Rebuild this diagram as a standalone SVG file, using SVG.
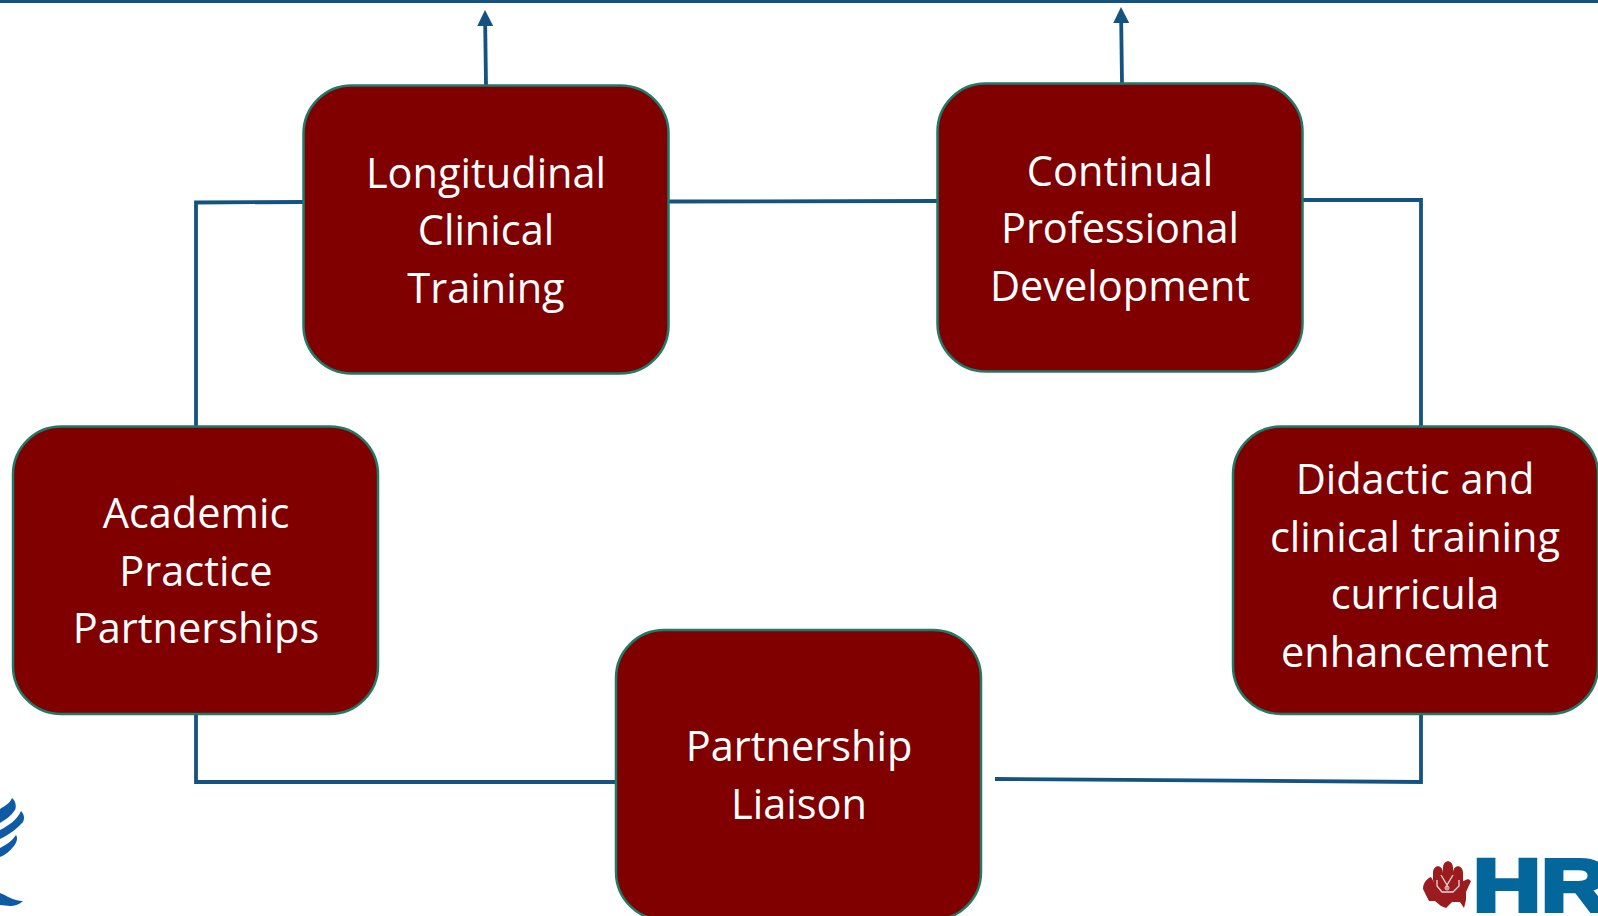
<svg xmlns="http://www.w3.org/2000/svg" width="1598" height="916" viewBox="0 0 1598 916">
<style>
.box{fill:#800000;stroke:#1f7a68;stroke-width:2.500}
.lbl{font-family:"Open Sans","Noto Sans",sans-serif;font-size:41.500px;fill:#fff;text-anchor:middle}
.c{fill:none;stroke:#135381;stroke-width:3.800}
</style>
<defs><marker id="ah" markerUnits="userSpaceOnUse" markerWidth="18" markerHeight="18" refX="1" refY="9" orient="auto"><path d="M0 1L16 9L0 17Z" fill="#135381"/></marker></defs>
<rect width="1598" height="916" fill="#fff"/>
<g id="connectors">
<path class="c" d="M0 1H1598"/>
<path class="c" d="M486 85L485.200 25" marker-end="url(#ah)"/>
<path class="c" d="M1122 83L1121.200 22" marker-end="url(#ah)"/>
<path class="c" d="M196 426V202.500L303 202"/>
<path class="c" d="M669 201.500L937 201"/>
<path class="c" d="M1303 200H1421V426"/>
<path class="c" d="M1421 714V782L995 779"/>
<path class="c" d="M196 714V782H616"/>
</g>
<g id="node-longitudinal"><rect class="box" x="303.500" y="85.500" width="365" height="288" rx="48"/>
<text class="lbl" x="486" y="188">Longitudinal</text><text class="lbl" x="486" y="245">Clinical</text><text class="lbl" x="486" y="302.500">Training</text></g>
<g id="node-continual"><rect class="box" x="937.500" y="83.500" width="365" height="288" rx="48"/>
<text class="lbl" x="1120" y="186">Continual</text><text class="lbl" x="1120" y="243">Professional</text><text class="lbl" x="1120" y="300.500">Development</text></g>
<g id="node-academic"><rect class="box" x="13" y="426.500" width="365" height="287.500" rx="48"/>
<text class="lbl" x="196" y="528">Academic</text><text class="lbl" x="196" y="586">Practice</text><text class="lbl" x="196" y="643">Partnerships</text></g>
<g id="node-didactic"><rect class="box" x="1233" y="426.500" width="365" height="287.500" rx="48"/>
<text class="lbl" x="1415" y="494">Didactic and</text><text class="lbl" x="1415" y="552">clinical training</text><text class="lbl" x="1415" y="609">curricula</text><text class="lbl" x="1415" y="667">enhancement</text></g>
<g id="node-liaison"><rect class="box" x="616" y="630" width="365" height="290" rx="48"/>
<text class="lbl" x="799" y="761">Partnership</text><text class="lbl" x="799" y="819">Liaison</text></g>
<g id="logo-left" fill="#0f5aa5">
<path d="M0 809C5 806 10 803 12 798C15 800 17 806 15 810C11 816 5 820 0 823Z"/>
<path d="M0 830C8 826 17 820 21 811C24 814 25 818 23 822C17 829 8 835 0 839Z"/>
<path d="M0 848C6 845 12 841 16 835C18 838 17 842 14 846C10 851 5 855 0 857Z"/>
<path d="M0 893C6 895 13 901 23 901C19 905 14 906 10 906L0 905Z"/>
</g>
<g id="logo-right">
<path fill="#9b1c1f" d="M1423 889C1423 882 1428 878 1431 877L1435 884L1461 882L1468 879L1471 881L1466 892L1466 900L1464 908L1460 902L1452 902L1446 908L1441 906L1435 901L1429 901Z"/>
<path fill="#9b1c1f" d="M1433 880V873C1433 864 1443 864 1443 873V868C1443 859 1453 859 1453 868V873C1453 864 1463 864 1463 873V884L1458 893H1438Z"/>
<path fill="none" stroke="#eed8d8" stroke-width="1.300" d="M1441 875L1447 885L1453 875M1447 885V889M1437 880V886L1442 892H1453L1459 886V880"/>
<circle cx="1447" cy="888" r="2" fill="none" stroke="#eed8d8" stroke-width="1"/>
<text x="1473" y="911" font-family="'Liberation Sans',sans-serif" font-weight="700" font-size="74" fill="#04679c" stroke="#04679c" stroke-width="4" textLength="136" lengthAdjust="spacingAndGlyphs">HR</text>
</g>
</svg>
